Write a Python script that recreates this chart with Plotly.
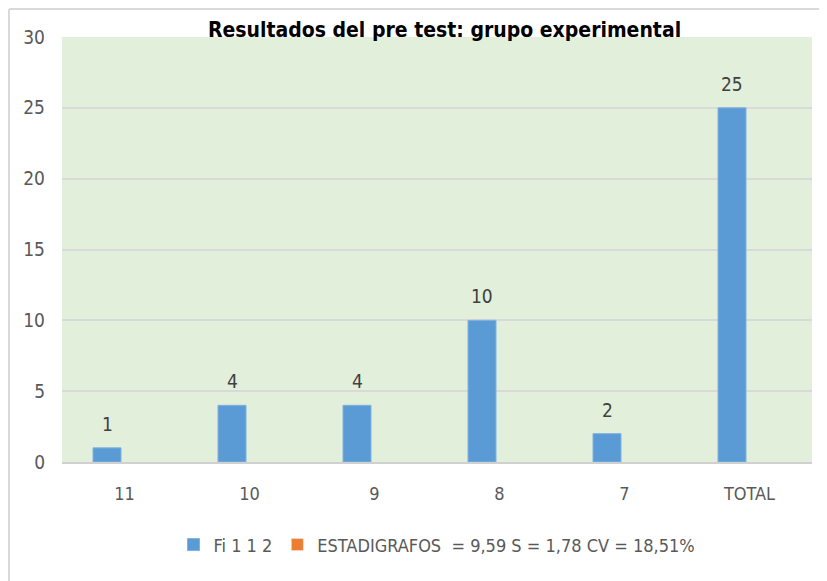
import plotly.graph_objects as go

categories = ["11", "10", "9", "8", "7", "TOTAL"]
fi_values = [1, 4, 4, 10, 2, 25]
est_values = [None, None, None, None, None, None]
series_names = ["Fi 1 1 2", "ESTADIGRAFOS  = 9,59 S = 1,78 CV = 18,51%"]
y_ticks = [0, 5, 10, 15, 20, 25, 30]
title_text = "Resultados del pre test: grupo experimental"

FONT = "DejaVu Sans Condensed, Liberation Sans Narrow, sans-serif"
GRAY = "#595959"

fig = go.Figure()
fig.add_trace(go.Bar(
    x=categories, y=fi_values, name=series_names[0],
    marker=dict(color="#5B9BD5", line=dict(color="#7FB2E0", width=1)),
))
fig.add_trace(go.Bar(
    x=categories, y=est_values, name=series_names[1],
    marker=dict(color="#ED7D31"),
))

# category axes place numeric-looking positions by index
annotations = [
    dict(x=i, y=v, xref="x", yref="y", text=str(v), showarrow=False,
         xshift=-17.5, yshift=24, yanchor="middle",
         font=dict(family=FONT, size=19, color="#404040"))
    for i, v in enumerate(fi_values)
]

fig.update_layout(
    width=819, height=573,
    margin=dict(l=54, r=15, t=29, b=119),
    paper_bgcolor="white", plot_bgcolor="#E2EFDA",
    barmode="group", bargap=0.44, bargroupgap=0.2,
    font=dict(family=FONT, size=18, color=GRAY),
    title=dict(text="<b>" + title_text + "</b>", x=0.51, xref="paper", xanchor="center",
               y=0.962, yanchor="middle",
               font=dict(family=FONT, size=21, color="#000000")),
    showlegend=True,
    legend=dict(orientation="h", x=0.5, xanchor="center", y=-0.195, yanchor="middle",
                font=dict(family=FONT, size=18, color=GRAY), traceorder="normal",
                itemwidth=30),
    xaxis=dict(type="category", categoryorder="array", categoryarray=categories,
               range=[-0.5, len(categories) - 0.5],
               showgrid=False, showline=True, linecolor="#D0D0D0", linewidth=2,
               ticks="", ticklabelstandoff=14, tickfont=dict(size=18, color=GRAY)),
    yaxis=dict(range=[0, 30], tickvals=y_ticks, showgrid=True, gridcolor="#D9D9D9",
               gridwidth=2, zeroline=False, showline=False, ticks="",
               ticklabelstandoff=16, tickfont=dict(size=19, color=GRAY)),
    annotations=annotations,
    shapes=[
        dict(type="line", xref="paper", yref="paper", x0=-0.0707, x1=1.03, y0=1.066, y1=1.066,
             line=dict(color="#D9D9D9", width=2)),
        dict(type="line", xref="paper", yref="paper", x0=-0.0707, x1=-0.0707, y0=1.066, y1=-0.3,
             line=dict(color="#D9D9D9", width=2)),
    ],
)

fig.write_html("out.html")
